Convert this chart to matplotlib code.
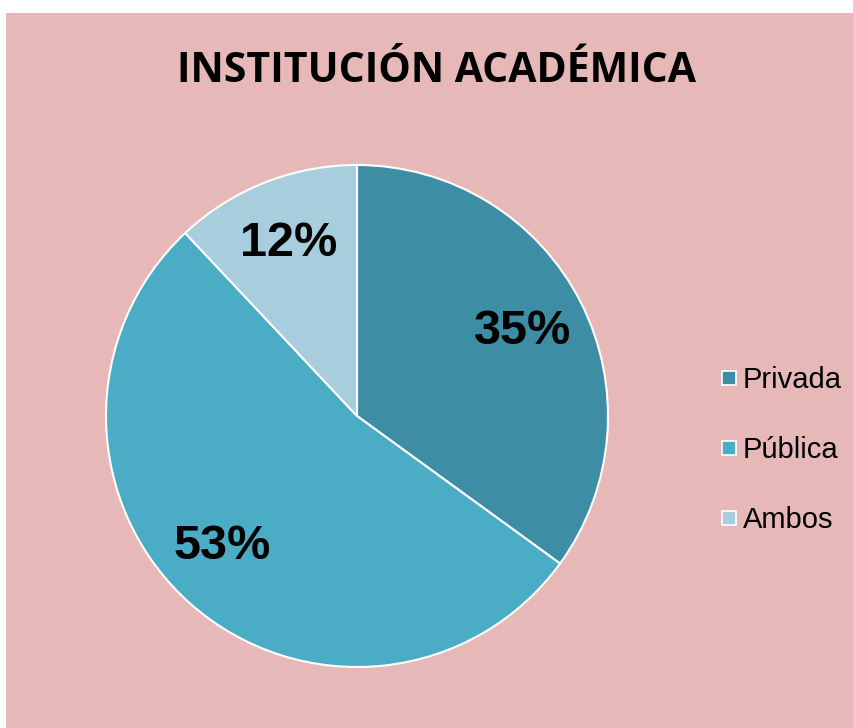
import matplotlib.pyplot as plt
from matplotlib.patches import Rectangle
from matplotlib.lines import Line2D

# datos
categorias = ['Privada', 'Pública', 'Ambos']
porcentajes = [35, 53, 12]
colores = ['#3D8DA5', '#4BACC6', '#A8CDDC']
titulo = 'INSTITUCIÓN ACADÉMICA'

W, H = 854, 728
fig = plt.figure(figsize=(W / 100, H / 100), dpi=100)
fig.patch.set_facecolor('white')

ax = fig.add_axes([0, 0, 1, 1])

wedges, textos, pcts = ax.pie(
    porcentajes, colors=colores, startangle=90, counterclock=False,
    center=(357, H - 416), radius=251,
    autopct='%.0f%%', pctdistance=0.74,
    wedgeprops={'edgecolor': 'white', 'linewidth': 1.5},
    textprops={'fontsize': 35, 'fontweight': 'bold',
               'family': 'Liberation Sans', 'color': 'black'})
# pequeño ajuste de la etiqueta del 53%
x, y = pcts[1].get_position()
pcts[1].set_position((x - 12, y + 9))

# pie() cambia los limites, se fijan despues
ax.set_xlim(0, W)
ax.set_ylim(0, H)
ax.set_aspect('equal')
ax.axis('off')

# fondo rosa (margen blanco arriba y a la izquierda)
ax.add_patch(Rectangle((6, 0), W - 6, H - 13, facecolor='#E6B8B7',
                       edgecolor='none', zorder=-5))

ax.text(437, H - 72, titulo, ha='center', va='center',
        fontsize=29.5, fontweight='bold', family='Open Sans')

handles = [Line2D([], [], marker='s', linestyle='none', markersize=10.5,
                  markerfacecolor=c, markeredgecolor='white', markeredgewidth=1.2)
           for c in colores]
leg = fig.legend(handles, categorias, loc='center left',
                 bbox_to_anchor=(695 / W, 1 - 450 / H), frameon=False,
                 prop={'family': 'Liberation Sans', 'size': 21},
                 handlelength=0.5, handletextpad=0.25, labelspacing=1.45)

fig.savefig('out.png', dpi=100)
